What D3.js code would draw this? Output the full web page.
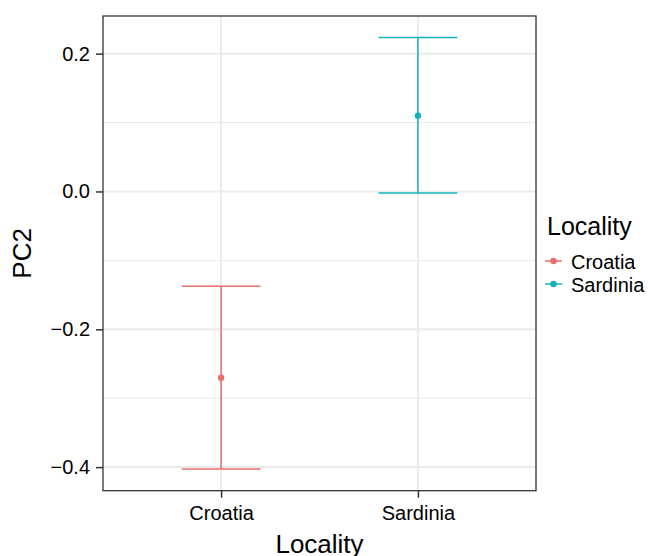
<!DOCTYPE html>
<meta charset="utf-8">
<style>
body { margin: 0; background: #fff; }
text { font-family: 'Liberation Sans', Arial, sans-serif; fill: #000; }
</style>
<body>
<svg width="652" height="556"></svg>
<script src="https://cdn.jsdelivr.net/npm/d3@7"></script>
<script>

// data
var localities = ["Croatia", "Sardinia"];
var means = [-0.2704, 0.1099];
var lowers = [-0.4029, -0.0023];
var uppers = [-0.1374, 0.2233];
var colors = ["#E96F6C", "#14B3BB"];
var yTicks = [-0.4, -0.2, 0.0, 0.2];
var yMinor = [-0.3, -0.1, 0.1];

var svg = d3.select("svg");
// panel edges (note: "top" is a reserved window property, so use p* names)
var pLeft = 103, pRight = 536, pTop = 16, pBottom = 490.7;

// discrete x like ggplot: positions 1..n, expanded 0.6 each side
var x = d3.scaleLinear().domain([0.4, localities.length + 0.6]).range([pLeft, pRight]);
var lo = d3.min(lowers), hi = d3.max(uppers), pad = (hi - lo) * 0.05;
var y = d3.scaleLinear().domain([lo - pad, hi + pad]).range([pBottom, pTop]);

var data = localities.map(function(d, i) {
  return {name: d, pos: i + 1, mean: means[i], lo: lowers[i], hi: uppers[i], color: colors[i]};
});

// grid
var grid = svg.append("g");
grid.selectAll(".minor").data(yMinor).enter().append("line")
    .attr("x1", pLeft).attr("x2", pRight)
    .attr("y1", function(d) { return y(d); }).attr("y2", function(d) { return y(d); })
    .attr("stroke", "#ebebeb").attr("stroke-width", 1);
grid.selectAll(".major").data(yTicks).enter().append("line")
    .attr("x1", pLeft).attr("x2", pRight)
    .attr("y1", function(d) { return y(d); }).attr("y2", function(d) { return y(d); })
    .attr("stroke", "#ebebeb").attr("stroke-width", 2);
grid.selectAll(".vmajor").data(data).enter().append("line")
    .attr("y1", pTop).attr("y2", pBottom)
    .attr("x1", function(d) { return x(d.pos); }).attr("x2", function(d) { return x(d.pos); })
    .attr("stroke", "#ebebeb").attr("stroke-width", 2);

// error bars
var bars = svg.append("g").selectAll("g").data(data).enter().append("g")
    .attr("stroke", function(d) { return d.color; })
    .attr("stroke-width", 1.5);
bars.append("line")
    .attr("x1", function(d) { return x(d.pos); }).attr("x2", function(d) { return x(d.pos); })
    .attr("y1", function(d) { return y(d.hi); }).attr("y2", function(d) { return y(d.lo); });
bars.append("line")
    .attr("x1", function(d) { return x(d.pos - 0.2); }).attr("x2", function(d) { return x(d.pos + 0.2); })
    .attr("y1", function(d) { return y(d.hi); }).attr("y2", function(d) { return y(d.hi); });
bars.append("line")
    .attr("x1", function(d) { return x(d.pos - 0.2); }).attr("x2", function(d) { return x(d.pos + 0.2); })
    .attr("y1", function(d) { return y(d.lo); }).attr("y2", function(d) { return y(d.lo); });
svg.append("g").selectAll("circle").data(data).enter().append("circle")
    .attr("cx", function(d) { return x(d.pos); })
    .attr("cy", function(d) { return y(d.mean); })
    .attr("r", 3.2)
    .attr("fill", function(d) { return d.color; });

// panel border
svg.append("rect")
    .attr("x", pLeft).attr("y", pTop).attr("width", pRight - pLeft).attr("height", pBottom - pTop)
    .attr("fill", "none").attr("stroke", "#333").attr("stroke-width", 1.3);

// y axis
var fmt = function(d) { return d3.format(".1f")(d).replace("-", "\u2212"); };
var yAxis = svg.append("g").attr("transform", "translate(" + pLeft + ",0)")
    .call(d3.axisLeft(y).tickValues(yTicks).tickFormat(fmt).tickSize(7).tickPadding(6));
yAxis.select(".domain").remove();
yAxis.selectAll(".tick line").attr("stroke", "#333").attr("stroke-width", 1.5);
yAxis.selectAll(".tick text").attr("font-size", 20).attr("fill", "#1a1a1a")
    .style("font-family", "'Liberation Sans', Arial, sans-serif");

// x axis
var xAxis = svg.append("g").attr("transform", "translate(0," + pBottom + ")")
    .call(d3.axisBottom(x).tickValues(data.map(function(d) { return d.pos; }))
      .tickFormat(function(d) { return localities[d - 1]; }).tickSize(7).tickPadding(8));
xAxis.select(".domain").remove();
xAxis.selectAll(".tick line").attr("stroke", "#333").attr("stroke-width", 1.5);
xAxis.selectAll(".tick text").attr("font-size", 20).attr("fill", "#1a1a1a")
    .style("font-family", "'Liberation Sans', Arial, sans-serif");

// axis titles (bottom one is clipped by the frame, as in the original)
svg.append("text")
    .attr("x", (pLeft + pRight) / 2).attr("y", 553)
    .attr("text-anchor", "middle").attr("font-size", 26)
    .text("Locality");
svg.append("text")
    .attr("transform", "translate(31," + (pTop + pBottom) / 2 + ") rotate(-90)")
    .attr("text-anchor", "middle").attr("font-size", 26)
    .text("PC2");

// legend
var legend = svg.append("g");
legend.append("text").attr("x", 547).attr("y", 235).attr("font-size", 25).text("Locality");
var keys = legend.selectAll(".key").data(data).enter().append("g")
    .attr("transform", function(d, i) { return "translate(0," + (261 + i * 23) + ")"; });
keys.append("line").attr("x1", 545).attr("x2", 562).attr("y1", 0).attr("y2", 0)
    .attr("stroke", function(d) { return d.color; }).attr("stroke-width", 1.5);
keys.append("circle").attr("cx", 553.5).attr("cy", 0).attr("r", 3.2)
    .attr("fill", function(d) { return d.color; });
keys.append("text").attr("x", 571).attr("y", 7.5).attr("font-size", 20)
    .text(function(d) { return d.name; });

</script>
